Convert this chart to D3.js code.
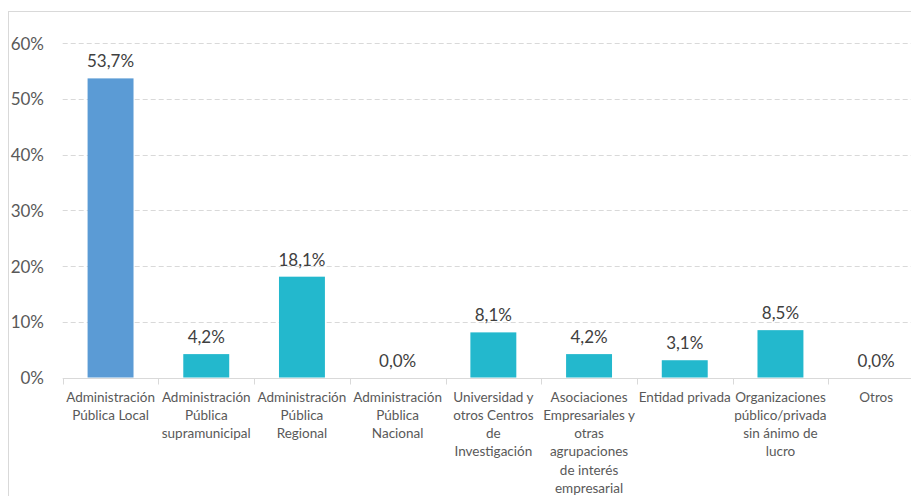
<!DOCTYPE html>
<html><head><meta charset="utf-8">
<script src="https://cdn.jsdelivr.net/npm/d3@7"></script>
<style>body{margin:0;background:#fff}svg{display:block}</style>
</head><body>
<svg id="c" width="911" height="496"></svg>
<script>
const categories = [
  ["Administración","Pública Local"],
  ["Administración","Pública","supramunicipal"],
  ["Administración","Pública","Regional"],
  ["Administración","Pública","Nacional"],
  ["Universidad y","otros Centros","de","Investigación"],
  ["Asociaciones","Empresariales y","otras","agrupaciones","de interés","empresarial"],
  ["Entidad privada"],
  ["Organizaciones","público/privada","sin ánimo de","lucro"],
  ["Otros"]
];
const values = [53.7, 4.2, 18.1, 0.0, 8.1, 4.2, 3.1, 8.5, 0.0];
const yTicks = [0, 10, 20, 30, 40, 50, 60];
const barColors = ["#5B9BD5","#23B8CD","#23B8CD","#23B8CD","#23B8CD","#23B8CD","#23B8CD","#23B8CD","#23B8CD"];

const font = "Lato, 'Open Sans', sans-serif";
const svg = d3.select("#c");
// frame
svg.append("rect").attr("x",8.5).attr("y",11.5).attr("width",1000).attr("height",1000)
  .attr("fill","none").attr("stroke","#D9D9D9");

const x0 = 62.7, plotW = 95.7*9, yBase = 377.5, yTop = 43.3;
const x = d3.scaleBand().domain(d3.range(categories.length)).range([x0, x0+plotW]).paddingInner(0.52).paddingOuter(0.26);
const y = d3.scaleLinear().domain([0,60]).range([yBase, yTop]);

// gridlines
svg.append("g").selectAll("line").data(yTicks.filter(d=>d>0)).join("line")
  .attr("x1",x0).attr("x2",x0+plotW).attr("y1",d=>Math.round(y(d))+0.5).attr("y2",d=>Math.round(y(d))+0.5)
  .attr("stroke","#D9D9D9").attr("stroke-width",1).attr("stroke-dasharray","5,3");

// y labels
const yAxis = d3.axisLeft(y).tickValues(yTicks).tickFormat(d=>d+"%").tickSize(0).tickPadding(0);
const ya = svg.append("g").attr("transform","translate(44,0)").call(yAxis);
ya.select(".domain").remove();
ya.selectAll("text").attr("font-family",font).attr("font-size",17).attr("fill","#595959").attr("dy","0.35em");

// bars
svg.append("g").selectAll("rect").data(values).join("rect")
  .attr("x",(d,i)=>x(i)).attr("width",x.bandwidth())
  .attr("y",d=>y(d)).attr("height",d=>yBase-y(d))
  .attr("fill",(d,i)=>barColors[i]);

// x axis
const xb = d3.scaleBand().domain(d3.range(categories.length)).range([x0, x0+plotW]);
const xAxis = d3.axisBottom(xb).tickSize(5).tickFormat("");
const xa = svg.append("g").attr("transform",`translate(0,${Math.round(yBase)+0.5})`).call(xAxis);
xa.select(".domain").attr("stroke","#D9D9D9").attr("d",`M${x0},0H${x0+plotW}`);
xa.selectAll(".tick").remove();
xa.selectAll("line.t").data(d3.range(categories.length+1)).join("line").attr("class","t")
  .attr("x1",i=>Math.round(x0+i*xb.step())+0.5).attr("x2",i=>Math.round(x0+i*xb.step())+0.5)
  .attr("y1",0).attr("y2",6).attr("stroke","#D9D9D9");

// category labels
const cl = svg.append("g");
categories.forEach((lines,i)=>{
  const t = cl.append("text").attr("x",x(i)+x.bandwidth()/2).attr("y",401.5)
    .attr("text-anchor","middle").attr("font-family",font).attr("font-size",13.5).attr("fill","#595959");
  lines.forEach((ln,j)=>t.append("tspan").attr("x",x(i)+x.bandwidth()/2).attr("dy",j?18.3:0).text(ln));
});

// data labels
svg.append("g").selectAll("text").data(values).join("text")
  .attr("x",(d,i)=>x(i)+x.bandwidth()/2).attr("y",d=>y(d)-11)
  .attr("text-anchor","middle").attr("font-family",font).attr("font-size",17).attr("fill","#404040")
  .text(d=>d3.format(".1f")(d).replace(".",",")+"%");
</script>
</body></html>
